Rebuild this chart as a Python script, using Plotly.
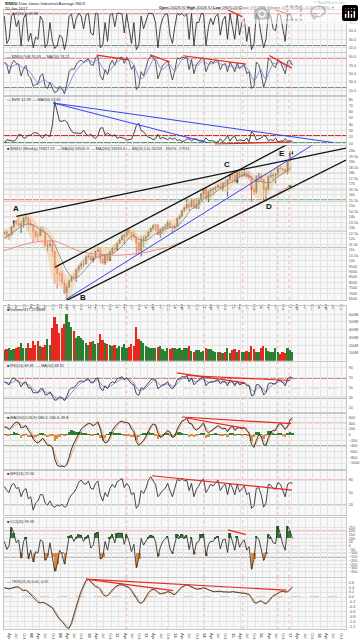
import plotly.graph_objects as go
import pandas as pd

# ---------------- data (monthly, Jan 2007 .. Jan 2017) ----------------
first_open = 12460
close = [12622, 12268, 12354, 13063, 13628, 13409, 13212, 13358, 13896, 13930, 13372, 13265,
         12650, 12266, 12263, 12820, 12638, 11350, 11378, 11544, 10851, 9325, 8829, 8776,
         8001, 7063, 7609, 8168, 8500, 8447, 9172, 9496, 9712, 9713, 10345, 10428,
         10067, 10325, 10857, 11009, 10137, 9774, 10466, 10015, 10788, 11118, 11006, 11578,
         11892, 12226, 12320, 12811, 12570, 12414, 12143, 11614, 10913, 11955, 12046, 12218,
         12633, 12952, 13212, 13214, 12393, 12880, 13009, 13091, 13437, 13096, 13026, 13104,
         13861, 14054, 14579, 14840, 15116, 14910, 15500, 14810, 15130, 15546, 16086, 16577,
         15699, 16322, 16458, 16581, 16717, 16827, 16563, 17098, 17043, 17391, 17828, 17823,
         17165, 18133, 17776, 17841, 18011, 17620, 17690, 16528, 16285, 17664, 17720, 17425,
         16466, 16517, 17685, 17774, 17787, 17930, 18432, 18401, 18308, 18142, 19124, 19763,
         19827]
high = [12700, 12800, 12500, 13140, 13690, 13690, 14020, 13660, 14000, 14200, 13960, 13780,
        13280, 12780, 12660, 13060, 13150, 12680, 11700, 11810, 11790, 10880, 9650, 9030,
        9090, 8280, 7950, 8250, 8580, 8880, 9240, 9630, 9920, 10120, 10470, 10580,
        10730, 10400, 10900, 11260, 11210, 10600, 10580, 10720, 10950, 11250, 11450, 11640,
        12030, 12390, 12420, 12880, 12880, 12660, 12750, 12190, 11720, 12280, 12240, 12330,
        12730, 13030, 13290, 13340, 13340, 12900, 13120, 13330, 13650, 13660, 13290, 13310,
        13970, 14150, 14590, 14890, 15540, 15340, 15660, 15660, 15710, 15720, 16170, 16590,
        16590, 16400, 16630, 16630, 16740, 16980, 17150, 17120, 17350, 17400, 17900, 18100,
        17950, 18230, 18290, 18180, 18350, 18150, 18140, 17750, 16930, 17800, 17980, 17900,
        17420, 16800, 17790, 18170, 17990, 18020, 18620, 18670, 18450, 18400, 19150, 19990,
        19999]
low = [12380, 12100, 11940, 12350, 12980, 13250, 13130, 12520, 13000, 13500, 12720, 13080,
       11630, 12060, 11730, 12250, 12540, 11290, 10830, 11200, 10360, 7880, 7450, 8150,
       7900, 7000, 6470, 7490, 8040, 8220, 8090, 9000, 9250, 9430, 9670, 10210,
       10030, 9830, 10300, 10770, 9770, 9740, 9610, 9930, 10010, 10710, 10930, 11020,
       11550, 11860, 11550, 12080, 12320, 11860, 12090, 10600, 10600, 10400, 11230, 11730,
       12200, 12600, 12770, 12710, 12340, 12100, 12490, 12950, 12980, 13080, 12470, 12880,
       13100, 13780, 14000, 14440, 14690, 14550, 14910, 14760, 14760, 14720, 15470, 15700,
       15700, 15340, 16020, 16020, 16330, 16640, 16560, 16330, 16900, 15860, 17260, 17070,
       17140, 17040, 17580, 17620, 17660, 17590, 17400, 15370, 16000, 16100, 17230, 17130,
       15450, 15500, 16400, 17480, 17330, 17060, 17710, 18260, 17990, 17950, 17880, 19000,
       19680]
volume_m = [140, 150, 170, 140, 150, 160, 180, 230, 170, 160, 230, 160,
            260, 200, 250, 190, 180, 210, 280, 200, 420, 560, 480, 360,
            420, 470, 600, 500, 430, 380, 300, 320, 300, 270, 230, 210,
            240, 250, 220, 230, 350, 270, 230, 220, 200, 190, 200, 170,
            190, 180, 220, 170, 180, 220, 190, 430, 280, 260, 230, 190,
            180, 170, 170, 160, 180, 190, 150, 130, 160, 150, 160, 170,
            150, 160, 140, 160, 160, 190, 130, 120, 140, 140, 120, 130,
            160, 150, 150, 130, 110, 120, 110, 100, 120, 170, 100, 140,
            150, 120, 140, 110, 110, 130, 110, 190, 150, 120, 110, 160,
            190, 170, 130, 120, 110, 170, 110, 90, 120, 100, 160, 140,
            110]

# quarterly overlays for the price panel
bb_upper = [12900, 13000, 14000, 14300, 14000, 13200, 13000, 12200, 9800, 8600, 9300, 10100,
            10800, 11300, 11200, 11300, 12000, 12900, 12900, 12300, 12800, 13400, 13100, 13700,
            13900, 15000, 15700, 15700, 16600, 16700, 17200, 17500, 18200, 18300, 18300, 17800,
            17900, 18100, 18600, 18700, 20300]
bb_lower = [12100, 11900, 12900, 13000, 11900, 11700, 10800, 8000, 7600, 6300, 8000, 9200,
            10000, 10200, 9600, 10200, 11200, 11800, 11900, 10500, 11700, 12600, 12200, 12900,
            12700, 14000, 14800, 14800, 15500, 15700, 16500, 16200, 17000, 17600, 17500, 15800,
            15700, 16200, 17400, 17900, 17900]
ma_40w = [12000, 12400, 12900, 13300, 13300, 12900, 12500, 11600, 10200, 8900, 8400, 8900,
          9700, 10300, 10500, 10600, 11000, 11700, 12300, 11900, 11900, 12400, 12700, 13000,
          13100, 13700, 14600, 15100, 15700, 16000, 16500, 16900, 17300, 17700, 17800, 17300,
          17200, 17100, 17600, 18000, 18500]
ma_200w = [10900, 11100, 11300, 11500, 11650, 11750, 11800, 11800, 11600, 11300, 11000, 10800,
           10650, 10600, 10550, 10500, 10500, 10550, 10600, 10650, 10800, 10950, 11100, 11250,
           11500, 11750, 12050, 12350, 12700, 13000, 13350, 13700, 14050, 14400, 14750, 15050,
           15400, 15750, 16100, 16500, 16900]

stoch_k = [85, 20, 30, 85, 92, 60, 75, 15, 80, 90, 25, 45,
           10, 35, 30, 85, 75, 10, 20, 70, 25, 8, 15, 40,
           35, 5, 30, 85, 90, 55, 80, 92, 85, 55, 88, 92,
           45, 40, 92, 90, 10, 15, 70, 25, 88, 92, 60, 92,
           92, 90, 45, 90, 55, 20, 70, 5, 15, 85, 55, 75,
           92, 92, 90, 70, 10, 60, 80, 90, 90, 40, 20, 60,
           92, 88, 92, 85, 90, 30, 92, 15, 70, 70, 92, 90,
           15, 60, 80, 65, 85, 90, 40, 75, 85, 30, 92, 60,
           30, 90, 40, 70, 80, 25, 60, 5, 20, 90, 80, 40,
           10, 30, 92, 85, 55, 50, 92, 88, 50, 25, 88, 92,
           75]
breadth = [78, 70, 50, 72, 82, 75, 72, 45, 62, 70, 45, 40,
           20, 25, 25, 45, 50, 20, 15, 30, 15, 5, 8, 20,
           15, 2, 25, 55, 62, 60, 72, 80, 82, 78, 82, 86,
           72, 70, 88, 92, 45, 35, 60, 48, 72, 82, 70, 86,
           88, 90, 75, 90, 80, 60, 70, 12, 20, 55, 45, 65,
           85, 92, 90, 80, 38, 55, 70, 75, 82, 60, 35, 58,
           88, 85, 90, 88, 90, 60, 84, 50, 72, 78, 86, 88,
           55, 70, 80, 76, 82, 80, 60, 72, 74, 55, 78, 68,
           55, 76, 62, 68, 72, 50, 55, 15, 20, 78, 72, 50,
           18, 35, 88, 82, 70, 65, 84, 78, 62, 50, 80, 82,
           70]
breadth_ma = [75, 74, 68, 66, 70, 72, 73, 68, 63, 62, 58, 52,
              42, 34, 28, 30, 35, 35, 30, 27, 25, 18, 14, 14,
              13, 10, 13, 24, 38, 50, 58, 66, 72, 76, 79, 82,
              80, 77, 80, 84, 74, 62, 56, 52, 58, 66, 72, 78,
              82, 86, 84, 86, 84, 78, 72, 56, 40, 38, 42, 50,
              62, 76, 84, 86, 76, 64, 60, 64, 72, 72, 62, 56,
              66, 76, 84, 86, 88, 82, 78, 70, 70, 72, 78, 84,
              76, 72, 74, 74, 77, 79, 74, 72, 72, 66, 68, 68,
              64, 66, 66, 66, 68, 64, 58, 44, 32, 40, 54, 60,
              44, 36, 50, 66, 76, 74, 76, 78, 74, 66, 68, 74,
              75]
vix = [10.4, 15.4, 14.6, 14.2, 13.1, 16.2, 23.5, 23.4, 18.0, 18.5, 22.9, 22.5,
       26.2, 26.5, 25.6, 20.8, 17.8, 23.9, 22.9, 20.7, 39.4, 76.0, 60.0, 45.0,
       44.8, 46.4, 44.1, 36.5, 28.9, 26.4, 25.9, 26.0, 25.6, 30.7, 24.5, 21.7,
       24.6, 19.5, 17.6, 22.1, 34.0, 34.5, 23.5, 26.1, 23.7, 21.2, 23.5, 17.8,
       19.5, 18.4, 17.7, 14.8, 15.5, 16.5, 25.3, 38.0, 42.0, 29.9, 27.8, 23.4,
       19.4, 18.4, 15.5, 17.2, 24.1, 17.1, 18.9, 17.5, 15.7, 18.6, 16.0, 18.0,
       14.3, 15.5, 12.7, 13.5, 16.3, 16.9, 13.5, 17.0, 16.6, 13.8, 13.7, 13.7,
       18.4, 14.0, 13.9, 13.4, 11.4, 11.6, 17.0, 12.0, 16.3, 22.0, 13.3, 19.2,
       21.0, 13.3, 15.3, 14.6, 13.8, 18.2, 12.1, 28.4, 24.5, 15.1, 16.1, 18.2,
       22.5, 20.6, 13.9, 15.7, 14.2, 18.0, 11.9, 13.4, 13.3, 17.1, 13.3, 14.0,
       12.3]
rsi = [62, 58, 56, 66, 70, 65, 62, 52, 60, 62, 50, 50,
       40, 40, 40, 48, 48, 36, 36, 42, 34, 25, 26, 32,
       30, 24, 32, 45, 50, 50, 56, 62, 64, 62, 66, 68,
       60, 60, 68, 70, 50, 44, 54, 48, 58, 62, 60, 68,
       70, 72, 66, 70, 64, 58, 56, 38, 35, 50, 48, 54,
       62, 66, 68, 66, 48, 52, 56, 58, 62, 52, 48, 54,
       66, 68, 72, 72, 74, 62, 70, 56, 62, 66, 70, 72,
       54, 60, 62, 62, 64, 66, 58, 62, 62, 54, 66, 62,
       54, 64, 56, 58, 60, 54, 54, 34, 36, 56, 56, 50,
       36, 40, 58, 60, 58, 58, 66, 64, 60, 54, 68, 72,
       70]
rsi_ma = [62, 61, 59, 60, 63, 65, 64, 60, 58, 58, 56, 53,
          47, 43, 41, 43, 45, 42, 39, 39, 37, 32, 29, 28,
          29, 27, 28, 34, 41, 46, 51, 56, 60, 62, 64, 66,
          64, 62, 64, 66, 60, 53, 51, 50, 53, 56, 59, 63,
          66, 68, 68, 69, 67, 63, 60, 51, 45, 45, 46, 50,
          55, 60, 64, 65, 59, 55, 54, 56, 58, 56, 53, 53,
          58, 63, 68, 70, 72, 68, 68, 63, 62, 64, 66, 69,
          63, 61, 61, 62, 63, 64, 62, 62, 62, 59, 61, 62,
          58, 60, 58, 58, 59, 57, 55, 46, 42, 47, 51, 52,
          45, 42, 48, 53, 57, 58, 61, 63, 62, 59, 62, 67,
          69]
macd = [280, 250, 180, 260, 380, 440, 420, 240, 260, 320, 150, 40,
        -150, -260, -300, -200, -120, -250, -380, -380, -450, -850, -1080, -1120,
        -1100, -1130, -1050, -800, -500, -300, -150, 50, 200, 280, 350, 400,
        380, 300, 380, 450, 200, -150, -300, -250, -80, 150, 280, 380,
        450, 480, 420, 430, 380, 200, 100, -250, -380, -300, -200, -60,
        150, 300, 380, 340, 50, -100, -50, 60, 150, 80, -100, -60,
        200, 350, 480, 520, 580, 400, 380, 220, 160, 220, 320, 420,
        150, 60, 120, 180, 260, 320, 250, 200, 230, 100, 250, 300,
        150, 230, 250, 200, 250, 150, 50, -350, -450, -200, 0, -50,
        -350, -380, -100, 100, 150, 160, 340, 400, 300, 180, 300, 520,
        580]
macd_signal = [250, 260, 230, 230, 290, 360, 410, 340, 290, 300, 230, 120,
               -30, -170, -260, -250, -180, -210, -300, -370, -410, -650, -920, -1060,
               -1110, -1120, -1080, -920, -680, -450, -260, -60, 100, 220, 310, 370,
               390, 340, 350, 410, 300, 50, -180, -270, -180, 30, 200, 320,
               410, 460, 450, 440, 400, 290, 170, -80, -300, -330, -260, -130,
               50, 220, 330, 350, 180, -20, -70, 10, 100, 110, -10, -70,
               90, 260, 410, 490, 550, 480, 400, 300, 200, 200, 270, 370,
               260, 120, 110, 150, 220, 290, 280, 230, 220, 160, 190, 260,
               200, 200, 230, 220, 230, 190, 100, -150, -380, -320, -120, -60,
               -220, -340, -240, -30, 100, 140, 260, 360, 340, 240, 260, 420,
               530]
macd_hist = [30, -10, -50, 30, 90, 80, 10, -100, -30, 20, -80, -80,
             -120, -90, -40, 50, 60, -40, -80, -10, -40, -200, -160, -60,
             10, -10, 30, 120, 180, 150, 110, 110, 100, 60, 40, 30,
             -10, -40, 30, 40, -100, -200, -120, 20, 100, 120, 80, 60,
             40, 20, -30, -10, -20, -90, -70, -170, -80, 30, 60, 70,
             100, 80, 50, -10, -130, -80, 20, 50, 50, -30, -90, 10,
             110, 90, 70, 30, 30, -80, -20, -80, -40, 20, 50, 50,
             -110, -60, 10, 30, 40, 30, -30, -30, 10, -60, 60, 40,
             -50, 30, 20, -20, 20, -40, -50, -200, -70, 120, 120, 10,
             -130, -40, 140, 130, 50, 20, 80, 40, -40, -60, 40, 100,
             50]
mfi = [65, 55, 50, 68, 72, 60, 62, 40, 55, 60, 35, 40,
       8, 25, 30, 45, 45, 25, 20, 30, 18, 15, 20, 18,
       22, 15, 18, 35, 45, 50, 60, 75, 80, 72, 70, 78,
       60, 58, 72, 78, 45, 30, 50, 40, 60, 70, 62, 76,
       80, 84, 62, 72, 65, 45, 50, 12, 20, 55, 48, 60,
       80, 88, 78, 70, 40, 48, 55, 60, 72, 55, 40, 60,
       82, 78, 84, 78, 80, 55, 72, 40, 58, 66, 78, 82,
       50, 60, 70, 66, 74, 80, 55, 65, 70, 45, 72, 62,
       45, 70, 52, 58, 66, 45, 50, 12, 18, 60, 62, 45,
       15, 25, 70, 68, 60, 58, 74, 70, 55, 40, 70, 74,
       72]
cci = [60, -50, 0, 250, 170, 40, 80, -170, 60, 120, -180, -60,
       -220, -80, -100, 80, 60, -200, -150, 40, -160, -350, -250, -60,
       -120, -250, -80, 130, 140, 60, 120, 150, 140, 60, 120, 140,
       -30, 10, 170, 180, -180, -160, 60, -60, 120, 150, 40, 170,
       170, 170, 20, 150, 60, -80, 20, -300, -180, 100, 10, 70,
       120, 140, 130, 60, -150, -20, 60, 90, 130, -40, -110, 30,
       160, 120, 160, 120, 140, -50, 110, -120, 40, 60, 150, 160,
       -140, 20, 60, 60, 110, 130, -40, 80, 90, -90, 170, 60,
       -60, 130, -20, 40, 80, -60, -10, -320, -180, 130, 90, -40,
       -200, -120, 160, 120, 40, 30, 270, 150, 20, -60, 270, 200,
       100]
trix = [0.38, 0.36, 0.33, 0.36, 0.40, 0.42, 0.40, 0.30, 0.26, 0.28, 0.20, 0.10,
        0.00, -0.12, -0.22, -0.24, -0.22, -0.26, -0.32, -0.36, -0.45, -0.62, -0.80, -0.92,
        -1.00, -1.12, -1.25, -1.28, -1.05, -0.70, -0.35, -0.05, 0.25, 0.50, 0.68, 0.72,
        0.62, 0.50, 0.42, 0.40, 0.30, 0.12, 0.03, 0.06, 0.18, 0.30, 0.40, 0.46,
        0.50, 0.50, 0.46, 0.42, 0.38, 0.25, 0.12, -0.05, -0.22, -0.26, -0.16, 0.02,
        0.18, 0.28, 0.32, 0.28, 0.18, 0.13, 0.14, 0.18, 0.22, 0.20, 0.12, 0.10,
        0.22, 0.34, 0.42, 0.46, 0.50, 0.46, 0.40, 0.36, 0.32, 0.32, 0.35, 0.38,
        0.34, 0.27, 0.24, 0.22, 0.22, 0.24, 0.24, 0.21, 0.20, 0.18, 0.20, 0.22,
        0.20, 0.20, 0.18, 0.16, 0.16, 0.14, 0.10, -0.05, -0.22, -0.26, -0.18, -0.16,
        -0.24, -0.28, -0.18, -0.04, 0.06, 0.10, 0.16, 0.22, 0.24, 0.20, 0.22, 0.32,
        0.41]
trix_signal = [0.36, 0.37, 0.35, 0.35, 0.37, 0.40, 0.41, 0.36, 0.30, 0.28, 0.24, 0.16,
               0.06, -0.05, -0.16, -0.22, -0.23, -0.24, -0.29, -0.34, -0.41, -0.54, -0.72, -0.86,
               -0.96, -1.06, -1.18, -1.26, -1.16, -0.88, -0.52, -0.18, 0.12, 0.38, 0.60, 0.70,
               0.67, 0.56, 0.46, 0.41, 0.35, 0.20, 0.08, 0.04, 0.12, 0.24, 0.35, 0.43,
               0.48, 0.50, 0.48, 0.44, 0.40, 0.31, 0.18, 0.02, -0.15, -0.24, -0.21, -0.06,
               0.10, 0.23, 0.30, 0.30, 0.22, 0.15, 0.13, 0.16, 0.20, 0.21, 0.16, 0.11,
               0.17, 0.28, 0.38, 0.44, 0.48, 0.48, 0.43, 0.38, 0.34, 0.32, 0.34, 0.37,
               0.36, 0.30, 0.26, 0.23, 0.22, 0.23, 0.24, 0.22, 0.21, 0.19, 0.19, 0.21,
               0.21, 0.20, 0.19, 0.17, 0.16, 0.15, 0.12, 0.02, -0.14, -0.24, -0.22, -0.17,
               -0.21, -0.26, -0.22, -0.10, 0.02, 0.08, 0.13, 0.19, 0.23, 0.22, 0.21, 0.28,
               0.37]

# event markers (vertical dashed lines)
event_dates = ['2010-04-01', '2011-04-15', '2012-09-21', '2013-12-16', '2015-04-27', '2016-07-15', '2016-12-02']

# trend lines: (date0, value0, date1, value1)
price_black_lines = [('2007-06-15', 14045, '2018-11-25', 20270),
                     ('2008-10-20', 9410, '2018-11-25', 23430),
                     ('2009-02-25', 6318, '2018-11-25', 19170)]
price_blue_lines = [('2009-03-06', 6470, '2017-10-05', 20590)]
price_labels = [('A', '2007-06-10', 14750), ('B', '2009-10-10', 6620), ('C', '2014-10-10', 18800),
                ('D', '2016-03-20', 14950), ('E', '2016-09-01', 19750)]
stoch_red = [('2014-10-20', 100, '2015-05-01', 83), ('2016-06-10', 100, '2017-01-01', 88)]
breadth_red = [('2010-04-01', 94.5, '2011-05-08', 83), ('2012-02-05', 95, '2012-10-15', 78),
               ('2013-04-01', 93, '2015-06-05', 73), ('2016-03-28', 93.5, '2017-01-08', 63.5)]
vix_blue = [('2008-09-25', 74, '2018-06-15', 11), ('2008-09-25', 74, '2014-02-01', 11)]
vix_red = [('2014-05-08', 8.5, '2016-12-20', 12)]
rsi_red = [('2013-01-10', 80, '2015-05-25', 60), ('2013-05-15', 74.6, '2016-12-15', 64.6)]
macd_red = [('2013-03-15', 620, '2017-01-01', 386), ('2013-05-15', 586, '2015-06-15', 211)]
mfi_red = [('2012-03-01', 90.5, '2017-01-08', 56)]
cci_red = [('2014-10-20', 217, '2015-06-05', 151)]
trix_red = [('2009-11-15', 0.73, '2016-11-01', 0.28), ('2009-11-15', 0.73, '2012-11-25', 0.26)]

# ---------------- figure ----------------
dates = pd.date_range('2007-01-01', periods=len(close), freq='MS') + pd.Timedelta(days=14)
qdates = pd.date_range('2007-01-01', periods=len(bb_upper), freq='QS')
opens = [first_open] + close[:-1]
up = [c >= o for c, o in zip(close, opens)]

W, H = 364, 640
ML, MR = 4, 18
XR = ['2007-01-10', '2018-11-25']
FONT = 'Liberation Sans'
GRID = '#e4e4e4'
RED = '#e8281e'
GREEN = '#2e7d32'

panels = [(10, 52), (53, 95), (97, 145), (146, 301), (307, 362),
          (363, 413), (415, 470), (472, 517), (520, 579), (580, 631)]
yranges = [[0, 100], [0, 100], [7.8, 84], [6410, 20500], [0, 705],
           [2, 102], [-1193, 737], [-4.7, 103], [-427, 373], [-1.31, 0.77]]
ytv = [[10, 30, 50, 70, 90], [10, 30, 50, 70, 90], list(range(10, 81, 10)),
       list(range(6500, 20001, 500)), list(range(100, 601, 100)), [10, 30, 50, 70, 90],
       list(range(-1000, 601, 200)), [20, 50, 80], list(range(-350, 251, 50)),
       [-1.2, -1.0, -0.8, -0.6, -0.4, -0.2, 0, 0.2, 0.4, 0.6]]
ytt = [None] * 10
ytt[0] = ['%.1f' % v for v in ytv[0]]
ytt[1] = ['%.1f' % v for v in ytv[1]]
ytt[4] = ['%dM' % v for v in ytv[4]]
ytt[9] = ['%.1f' % v for v in ytv[9]]

qticks = pd.date_range('2007-04-01', '2018-10-01', freq='QS')
qtext = [('<b>%02d</b>' % (d.year % 100)) if d.month == 1 else d.strftime('%b') for d in qticks]

fig = go.Figure()

def ax(i):
    return ('x' if i == 1 else 'x%d' % i), ('y' if i == 1 else 'y%d' % i)

def add(trace, i):
    xa, ya = ax(i)
    trace.update(xaxis=xa, yaxis=ya)
    fig.add_trace(trace)

# P1 stochastic
add(go.Scatter(x=dates, y=stoch_k, mode='lines', line=dict(color='#333', width=0.9)), 1)
# P2 breadth + MA
add(go.Scatter(x=dates, y=breadth, mode='lines', line=dict(color='#444', width=0.9)), 2)
add(go.Scatter(x=dates, y=breadth_ma, mode='lines', line=dict(color='#7080e0', width=0.8)), 2)
# P3 VIX
add(go.Scatter(x=dates, y=vix, mode='lines', line=dict(color='#333', width=0.9)), 3)
# P4 price
add(go.Scatter(x=qdates, y=bb_upper, mode='lines', line=dict(color='rgba(0,0,0,0)', width=0, shape='spline'),
               hoverinfo='skip'), 4)
add(go.Scatter(x=qdates, y=bb_lower, mode='lines', line=dict(color='rgba(0,0,0,0)', width=0, shape='spline'),
               fill='tonexty', fillcolor='rgba(240,208,160,0.6)', hoverinfo='skip'), 4)
add(go.Scatter(x=qdates, y=ma_200w, mode='lines', line=dict(color='#f08a8a', width=1, shape='spline')), 4)
add(go.Scatter(x=qdates, y=ma_40w, mode='lines', line=dict(color='#888', width=0.9, shape='spline')), 4)
add(go.Candlestick(x=dates, open=opens, high=high, low=low, close=close,
                   increasing=dict(line=dict(color='#222', width=0.7), fillcolor='#222'),
                   decreasing=dict(line=dict(color=RED, width=0.7), fillcolor=RED),
                   whiskerwidth=0), 4)
# P5 volume
add(go.Bar(x=dates, y=volume_m, marker=dict(color=[GREEN if u else RED for u in up], line=dict(width=0)),
           width=22 * 86400000), 5)
# P6 RSI
add(go.Scatter(x=dates, y=rsi_ma, mode='lines', line=dict(color='#7080e0', width=0.8)), 6)
add(go.Scatter(x=dates, y=rsi, mode='lines', line=dict(color='#333', width=0.9)), 6)
# P7 MACD
add(go.Bar(x=dates, y=macd_hist, marker=dict(color=[GREEN if v >= 0 else '#e08a3c' for v in macd_hist],
                                             line=dict(width=0)), width=31 * 86400000), 7)
add(go.Scatter(x=dates, y=macd_signal, mode='lines', line=dict(color='#f0a060', width=0.9)), 7)
add(go.Scatter(x=dates, y=macd, mode='lines', line=dict(color='#222', width=0.9)), 7)
# P8 MFI
add(go.Scatter(x=dates, y=mfi, mode='lines', line=dict(color='#333', width=0.9)), 8)
# P9 CCI with shading beyond +/-100
cci_pos = [v - 100 if v > 100 else 0 for v in cci]
cci_neg = [v + 100 if v < -100 else 0 for v in cci]
add(go.Bar(x=dates, y=cci_pos, base=100, marker=dict(color=GREEN, line=dict(width=0)), width=31 * 86400000), 9)
add(go.Bar(x=dates, y=cci_neg, base=-100, marker=dict(color='#e08a3c', line=dict(width=0)), width=31 * 86400000), 9)
add(go.Scatter(x=dates, y=cci, mode='lines', line=dict(color='#333', width=0.9)), 9)
# P10 TRIX
add(go.Scatter(x=dates, y=trix_signal, mode='lines', line=dict(color='#f0a060', width=0.9)), 10)
add(go.Scatter(x=dates, y=trix, mode='lines', line=dict(color='#333', width=0.9)), 10)

layout = dict(width=W, height=H, margin=dict(l=ML, r=MR, t=0, b=0), showlegend=False,
              paper_bgcolor='white', plot_bgcolor='#f8f8f8', bargap=0,
              font=dict(family=FONT, size=5, color='#333'))
for i, (t, b) in enumerate(panels, start=1):
    xk = 'xaxis' if i == 1 else 'xaxis%d' % i
    yk = 'yaxis' if i == 1 else 'yaxis%d' % i
    xa, ya = ax(i)
    layout[xk] = dict(domain=[0, 1], range=XR, type='date', anchor=ya,
                      tickvals=list(qticks), ticktext=qtext, showticklabels=(i in (4, 10)),
                      tickfont=dict(size=4.2, color='#555'), ticks='', ticklen=0,
                      ticklabelstandoff=0,
                      showgrid=True, gridcolor=GRID, gridwidth=1, zeroline=False,
                      showline=True, linecolor='#c8c8c8', linewidth=1, mirror=True,
                      rangeslider=dict(visible=False), fixedrange=True)
    if i > 1:
        layout[xk]['matches'] = 'x'
    yd = dict(domain=[1 - b / H, 1 - t / H], range=yranges[i - 1], anchor=xa, side='right',
              tickvals=ytv[i - 1], tickfont=dict(size=3.8, color='#555'), ticks='',
              ticklabelstandoff=1,
              showgrid=True, gridcolor=GRID, gridwidth=1, zeroline=False,
              showline=True, linecolor='#c8c8c8', linewidth=1, mirror=True, fixedrange=True)
    if ytt[i - 1] is not None:
        yd['ticktext'] = ytt[i - 1]
    layout[yk] = yd
fig.update_layout(**layout)

shapes = []
annos = []

def hline(i, level, color, width=1, dash='solid', x0=0, x1=1):
    xa, ya = ax(i)
    shapes.append(dict(type='line', xref=xa + ' domain', yref=ya, x0=x0, x1=x1, y0=level, y1=level,
                       line=dict(color=color, width=width, dash=dash), layer='below'))

def tline(i, seg, color, width=1.2):
    xa, ya = ax(i)
    d0, v0, d1, v1 = seg
    shapes.append(dict(type='line', xref=xa, yref=ya, x0=d0, y0=v0, x1=d1, y1=v1,
                       line=dict(color=color, width=width), layer='above'))

# event lines in every panel
for i in range(1, 11):
    xa, ya = ax(i)
    for d in event_dates:
        shapes.append(dict(type='line', xref=xa, yref=ya + ' domain', x0=d, x1=d, y0=0, y1=1,
                           line=dict(color='#f4a0a0', width=0.8, dash='dot'), layer='below'))

# horizontal reference lines
hline(1, 90, RED, 1.2); hline(1, 15, '#6a8f6a', 1)
hline(2, 88, RED, 1.2); hline(2, 17, '#6a8f6a', 1)
hline(3, 22, RED, 1.2); hline(3, 11, '#6a8f6a', 1)
hline(4, 18000, '#a8cfa8', 1); hline(4, 17000, '#f5b0b0', 1); hline(4, 16500, '#aaaaaa', 1.5)
hline(4, 15500, RED, 1.6, x0=0, x1=0.45); hline(4, 15500, GREEN, 1.6, x0=0.45, x1=1)
hline(4, 14000, '#f2a0a0', 1); hline(4, 12700, '#a8cfa8', 1); hline(4, 11200, '#b8c8a8', 1)
hline(6, 70, '#b01010', 1.3); hline(6, 50, '#888', 0.8, 'dash'); hline(6, 30, '#aaa', 2)
hline(7, 400, RED, 1.2); hline(7, -400, '#4a7a4a', 1)
hline(8, 80, '#f08888', 1.3); hline(8, 20, '#6a8f6a', 1)
hline(9, 200, '#f08888', 1.2); hline(9, 100, '#999', 1); hline(9, 0, '#999', 0.8, 'dash')
hline(9, -100, '#bbb', 1); hline(9, -150, '#888', 1.4)
hline(10, 0, '#888', 0.8, 'dash')

for s in price_black_lines:
    tline(4, s, '#111', 1.3)
for s in price_blue_lines:
    tline(4, s, '#3344ee', 1)
for s in stoch_red:
    tline(1, s, RED)
for s in breadth_red:
    tline(2, s, RED)
for s in vix_blue:
    tline(3, s, '#3344ee', 1)
for s in vix_red:
    tline(3, s, RED)
for s in rsi_red:
    tline(6, s, RED)
for s in macd_red:
    tline(7, s, RED)
for s in mfi_red:
    tline(8, s, RED)
for s in cci_red:
    tline(9, s, RED)
for s in trix_red:
    tline(10, s, RED)

for txt, d, v in price_labels:
    annos.append(dict(text='<b>%s</b>' % txt, x=d, y=v, xref='x4', yref='y4', showarrow=False,
                      font=dict(size=8, color='#111', family=FONT)))
annos.append(dict(text='▼', x='2016-12-20', y=16700, xref='x4', yref='y4', showarrow=False,
                  font=dict(size=6, color=GREEN)))

# panel header texts
headers = ['— %K(14,3) 69.88', '— $INDU %B 70.93 — MA(10) 74.21', '— $VIX 12.28  — MA(50) 13.61',
           '■ $INDU (Weekly) 19827.25  — MA(40) 18501.9  — MA(200) 16923.4  — BB(20,2.0) 20233 - 19074 - 17915',
           '■ Volume 317,721,888', '■ RSI(14) 69.81  — MA(10) 68.92',
           '■ MACD(12,26,9) 580.2, 530.4, 49.8', '■ MFI(14) 72.90', '■ CCI(20) 99.99',
           '— TRIX(15,9) 0.41, 0.37']
for (t, b), h in zip(panels, headers):
    annos.append(dict(text=h, x=0.006, y=1 - (t + 0.8) / H, xref='paper', yref='paper',
                      xanchor='left', yanchor='top', showarrow=False, borderpad=0,
                      font=dict(size=3.8, color='#333')))

annos.append(dict(text='<b>$INDU</b> Dow Jones Industrial Average INDX', x=0.0, y=1.0, xref='paper',
                  yref='paper', xanchor='left', yanchor='top', showarrow=False, borderpad=0,
                  font=dict(size=4.2, color='#222')))
annos.append(dict(text='20-Jan-2017', x=0.0, y=1 - 5 / H, xref='paper', yref='paper',
                  xanchor='left', yanchor='top', showarrow=False, borderpad=0,
                  font=dict(size=4, color='#222')))
annos.append(dict(text='<b>Open</b> 20028.92 <b>High</b> 20028.92 <b>Low</b> 19670.20 <b>Close</b> 19827.25 '
                       '<b>Volume</b> 317.7M <b>Chg</b> -32.65 (-0.16%) ▼',
                  x=0.97, y=1 - 4.6 / H, xref='paper', yref='paper', xanchor='right', yanchor='top',
                  showarrow=False, borderpad=0, font=dict(size=3.8, color='#222')))
annos.append(dict(text='© StockCharts.com', x=1.0, y=1.0, xref='paper', yref='paper',
                  xanchor='right', yanchor='top', showarrow=False, borderpad=0,
                  font=dict(size=3.6, color='#666')))

fig.update_layout(shapes=shapes, annotations=annos)
fig.write_html('out.html',
               post_script="document.body.style.margin='0';document.body.style.overflow='hidden';")
